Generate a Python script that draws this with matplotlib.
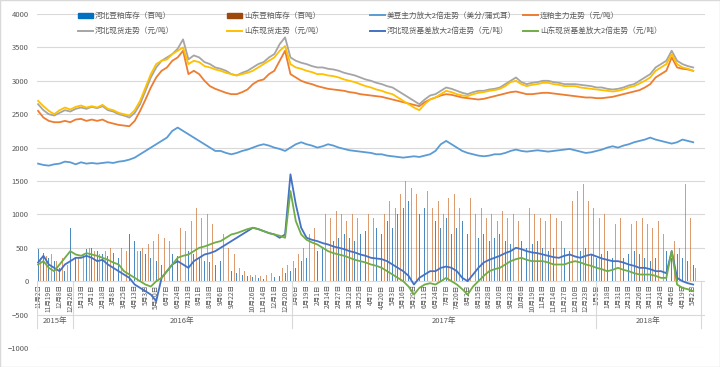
import numpy as np
import matplotlib
matplotlib.use("Agg")
import matplotlib.pyplot as plt
from matplotlib.lines import Line2D
from matplotlib.patches import Patch, Rectangle

plt.rcParams['font.family'] = ['Noto Sans CJK SC', 'DejaVu Sans']

# category labels, one every 13 rows of the sheet
date_labels = ['11月2日', '11月19日', '12月8日', '12月26日', '1月13日', '2月1日', '2月18日',
               '3月8日', '3月25日', '4月13日', '5月3日', '5月20日', '6月7日', '6月24日',
               '7月13日', '8月1日', '8月18日', '9月6日', '9月22日', '', '10月26日',
               '11月14日', '12月1日', '12月20日', '1月6日', '1月19日', '2月1日', '2月14日',
               '2月27日', '3月12日', '3月25日', '4月7日', '4月20日', '5月3日', '5月16日',
               '5月29日', '6月11日', '6月24日', '7月7日', '7月20日', '8月2日', '8月15日',
               '8月28日', '9月10日', '9月23日', '10月6日', '10月19日', '11月1日', '11月14日',
               '11月27日', '12月10日', '12月23日', '1月5日', '1月18日', '1月31日', '2月13日',
               '2月26日', '3月11日', '3月24日', '4月6日', '4月19日', '5月2日']
years = ['2015年', '2016年', '2017年', '2018年']
year_edges = [-0.1, 3.25, 23.64, 51.95, 61.7]

# values sampled every half label step
hebei_stock = [480, 420, 350, 300, 200, 150, 800, 350, 420, 480, 500, 450, 400, 380, 420, 350, 550, 700, 600, 450,
               400, 350, 300, 250, 350, 400, 380, 420, 450, 400, 350, 300, 280, 250, 300, 200, 150, 120, 100, 80,
               60, 50, 40, 50, 60, 80, 120, 150, 200, 300, 350, 400, 450, 500, 550, 600, 650, 700, 650, 600,
               700, 750, 650, 800, 700, 900, 800, 1000, 1100, 1200, 900, 1000, 1100, 850, 900, 800, 950, 700, 800, 900,
               700, 800, 650, 700, 600, 650, 700, 600, 550, 650, 600, 500, 550, 600, 500, 450, 500, 550, 500, 450,
               400, 450, 500, 400, 350, 400, 450, 350, 300, 350, 400, 450, 400, 350, 300, 350, 400, 450, 350, 400,
               350, 300, 250]
shandong_stock = [350, 380, 400, 300, 350, 250, 300, 350, 400, 500, 450, 400, 450, 500, 550, 500, 450, 400, 450, 500,
                  550, 600, 700, 650, 600, 700, 800, 750, 900, 1100, 950, 1000, 850, 800, 700, 500, 400, 200, 150, 100,
                  100, 80, 100, 120, 150, 200, 250, 300, 400, 500, 700, 800, 900, 1000, 950, 1050, 1000, 900, 1000, 950,
                  1050, 1000, 950, 1100, 1000, 1200, 1100, 1300, 1500, 1400, 1300, 1200, 1350, 1100, 1200, 1000, 1250, 1300, 1100, 1000,
                  1250, 1000, 1100, 950, 1000, 900, 1050, 950, 1000, 900, 950, 1100, 1000, 950, 900, 1000, 950, 900, 1100, 1200,
                  1350, 1450, 1200, 1100, 950, 1000, 900, 850, 950, 900, 850, 900, 950, 850, 800, 900, 700, 650, 600, 500,
                  1450, 950, 200]
soy_us_x2 = [1760, 1740, 1730, 1750, 1760, 1790, 1780, 1750, 1780, 1760, 1770, 1760, 1770, 1780, 1770, 1790, 1800, 1820, 1850, 1900,
             1950, 2000, 2050, 2100, 2150, 2250, 2300, 2250, 2200, 2150, 2100, 2050, 2000, 1950, 1950, 1920, 1900, 1920, 1950, 1970,
             2000, 2030, 2050, 2030, 2000, 1980, 1950, 2000, 2050, 2080, 2050, 2030, 2000, 2020, 2050, 2030, 2000, 1980, 1960, 1950,
             1940, 1930, 1920, 1900, 1900, 1880, 1870, 1860, 1850, 1860, 1870, 1860, 1880, 1900, 1950, 2050, 2100, 2050, 2000, 1950,
             1920, 1900, 1880, 1870, 1880, 1900, 1900, 1920, 1950, 1970, 1950, 1940, 1950, 1960, 1950, 1940, 1950, 1960, 1970, 1980,
             1960, 1940, 1920, 1930, 1950, 1970, 2000, 2020, 2000, 2030, 2050, 2080, 2100, 2120, 2150, 2120, 2100, 2080, 2060, 2080,
             2120, 2100, 2080]
dalian_meal = [2550, 2450, 2400, 2380, 2380, 2400, 2380, 2420, 2430, 2400, 2420, 2400, 2420, 2380, 2360, 2340, 2330, 2320, 2400, 2550,
               2720, 2900, 3050, 3150, 3200, 3300, 3350, 3450, 3100, 3150, 3100, 3000, 2920, 2880, 2850, 2820, 2800, 2800, 2830, 2870,
               2950, 3000, 3020, 3100, 3150, 3300, 3450, 3100, 3050, 3000, 2970, 2950, 2920, 2900, 2880, 2870, 2860, 2850, 2830, 2820,
               2800, 2790, 2780, 2770, 2760, 2740, 2720, 2700, 2680, 2660, 2640, 2620, 2680, 2720, 2750, 2780, 2800, 2790, 2770, 2750,
               2740, 2730, 2720, 2730, 2750, 2770, 2790, 2810, 2830, 2840, 2820, 2800, 2800, 2810, 2820, 2820, 2810, 2800, 2790, 2780,
               2770, 2760, 2750, 2750, 2740, 2740, 2750, 2760, 2780, 2800, 2820, 2840, 2860, 2900, 2950, 3050, 3100, 3150, 3350, 3200,
               3180, 3170, 3150]
hebei_spot = [2650, 2560, 2500, 2480, 2520, 2560, 2540, 2580, 2600, 2580, 2610, 2590, 2620, 2560, 2540, 2500, 2480, 2450, 2520, 2650,
              2850, 3050, 3200, 3300, 3350, 3400, 3480, 3620, 3320, 3380, 3350, 3280, 3250, 3200, 3180, 3150, 3100, 3080, 3120, 3150,
              3200, 3250, 3280, 3350, 3400, 3550, 3650, 3350, 3300, 3270, 3250, 3220, 3200, 3200, 3180, 3170, 3150, 3120, 3100, 3080,
              3050, 3020, 3000, 2970, 2950, 2920, 2900, 2850, 2800, 2750, 2700, 2650, 2720, 2780, 2800, 2850, 2900, 2880, 2850, 2820,
              2800, 2830, 2850, 2850, 2870, 2880, 2900, 2950, 3000, 3050, 2980, 2950, 2970, 2980, 3000, 3000, 2980, 2970, 2950, 2950,
              2950, 2940, 2930, 2920, 2900, 2900, 2880, 2870, 2880, 2900, 2930, 2950, 3000, 3050, 3100, 3200, 3250, 3300, 3450, 3300,
              3250, 3220, 3200]
shandong_spot = [2700, 2620, 2550, 2500, 2560, 2600, 2570, 2610, 2630, 2600, 2620, 2600, 2640, 2580, 2560, 2520, 2500, 2480, 2560, 2700,
                 2900, 3100, 3250, 3300, 3320, 3400, 3450, 3500, 3250, 3300, 3280, 3220, 3200, 3170, 3150, 3120, 3100, 3080, 3100, 3120,
                 3150, 3200, 3250, 3300, 3350, 3450, 3520, 3250, 3200, 3180, 3150, 3130, 3100, 3100, 3080, 3070, 3050, 3020, 3000, 2980,
                 2950, 2920, 2900, 2870, 2850, 2820, 2800, 2750, 2700, 2650, 2600, 2560, 2650, 2720, 2750, 2800, 2850, 2830, 2800, 2780,
                 2770, 2800, 2820, 2830, 2850, 2860, 2880, 2920, 2980, 3000, 2950, 2920, 2940, 2950, 2970, 2970, 2950, 2940, 2920, 2920,
                 2920, 2900, 2890, 2880, 2870, 2860, 2850, 2840, 2850, 2870, 2900, 2920, 2960, 3000, 3050, 3150, 3200, 3250, 3400, 3250,
                 3200, 3180, 3150]
hebei_basis_x2 = [280, 380, 250, 200, 150, 250, 300, 350, 350, 380, 350, 300, 320, 250, 200, 150, 100, 50, -50, -100,
                  -150, -200, -300, 50, 150, 250, 300, 250, 200, 300, 350, 400, 420, 450, 500, 550, 600, 650, 700, 750,
                  800, 780, 750, 720, 700, 650, 700, 1600, 1150, 800, 650, 620, 600, 570, 550, 520, 500, 480, 450, 430,
                  400, 380, 350, 340, 330, 300, 250, 200, 150, 80, -50, 50, 100, 150, 150, 200, 220, 200, 150, 50,
                  0, 100, 200, 280, 320, 350, 380, 420, 450, 500, 480, 450, 430, 420, 400, 380, 360, 350, 380, 400,
                  370, 350, 380, 400, 370, 340, 320, 300, 300, 280, 250, 230, 200, 200, 180, 150, 150, 120, 450, 50,
                  0, -30, -50]
shandong_basis_x2 = [250, 300, 200, 150, 250, 350, 450, 400, 380, 420, 400, 380, 350, 320, 280, 250, 150, 100, 50, 0,
                     -50, -80, 0, 50, 150, 250, 350, 380, 400, 450, 500, 520, 550, 580, 600, 650, 700, 720, 750, 780,
                     800, 780, 750, 720, 700, 680, 650, 1350, 900, 700, 620, 580, 550, 500, 450, 420, 400, 380, 350, 320,
                     300, 280, 250, 230, 200, 150, 100, 50, 0, -80, -200, -100, -50, -30, -50, 0, 50, 0, -50, -120,
                     -200, -80, 0, 80, 150, 180, 200, 250, 300, 330, 350, 320, 300, 300, 300, 280, 250, 250, 250, 280,
                     300, 280, 250, 230, 200, 180, 150, 170, 200, 170, 150, 120, 100, 100, 100, 80, 50, 50, 450, -50,
                     -100, -120, -150]

x = np.arange(len(hebei_spot)) * 0.5

txt = '#595959'
fig = plt.figure(figsize=(7.2, 3.67), dpi=100)
ax = fig.add_axes([37 / 720, 1 - 348 / 367, 668 / 720, 334 / 367])

# inventory bars are one sheet row wide, so they come out as thin strokes
ax.bar(x, hebei_stock, width=0.08, color='#2E75B6', alpha=0.85, lw=0, zorder=2)
ax.bar(x + 0.25, shandong_stock, width=0.08, color='#C55A11', alpha=0.6, lw=0, zorder=2)

for ys, c in [(soy_us_x2, '#5B9BD5'), (dalian_meal, '#ED7D31'), (hebei_spot, '#A5A5A5'),
              (shandong_spot, '#FFC000'), (hebei_basis_x2, '#4472C4'), (shandong_basis_x2, '#70AD47')]:
    ax.plot(x, ys, color=c, lw=1.3, zorder=3)

ax.set_xlim(-0.1, 62.1)
ax.set_ylim(-1000, 4000)
ax.set_yticks(np.arange(-1000, 4001, 500))
ax.yaxis.grid(True, color='#D9D9D9', lw=0.8, zorder=0)
ax.set_axisbelow(True)
ax.set_xticks([])
for s in ax.spines.values():
    s.set_visible(False)
ax.tick_params(axis='y', length=0, labelsize=5.5, labelcolor=txt, pad=6)

for k, lbl in enumerate(date_labels):
    ax.text(k, -45, lbl, rotation=90, ha='center', va='top', fontsize=4.8, color=txt, zorder=1)

for i, yr in enumerate(years):
    ax.text((year_edges[i] + year_edges[i + 1]) / 2, -600, yr, ha='center', va='center',
            fontsize=5.5, color=txt)
for e in year_edges:
    ax.plot([e, e], [0, -700], color='#D9D9D9', lw=0.8, zorder=1)

# legend laid out in four columns, two rows
handles = [Patch(color='#0070C0'), Line2D([], [], color='#A5A5A5', lw=1.4),
           Patch(color='#9E480E'), Line2D([], [], color='#FFC000', lw=1.4),
           Line2D([], [], color='#5B9BD5', lw=1.4), Line2D([], [], color='#4472C4', lw=1.4),
           Line2D([], [], color='#ED7D31', lw=1.4), Line2D([], [], color='#70AD47', lw=1.4)]
names = ['河北豆粕库存（百吨）', '河北现货走势（元/吨）',
         '山东豆粕库存（百吨）', '山东现货走势（元/吨）',
         '美豆主力放大2倍走势（美分/蒲式耳）', '河北现货基差放大2倍走势（元/吨）',
         '连粕主力走势（元/吨）', '山东现货基差放大2倍走势（元/吨）']
col_x = [78, 227, 370, 523]
for c in range(4):
    fig.legend(handles[2 * c:2 * c + 2], names[2 * c:2 * c + 2], loc='upper left',
               bbox_to_anchor=(col_x[c] / 720, 1 - 12 / 367), frameon=False,
               fontsize=5.5, labelcolor=txt, borderpad=0, borderaxespad=0,
               handlelength=1.9, handleheight=0.6, handletextpad=0.3, labelspacing=0.95)

fig.add_artist(Rectangle((0, 0), 1, 1, transform=fig.transFigure, fill=False,
                         edgecolor='#D9D9D9', lw=1))

fig.savefig('out.png', dpi=100)
